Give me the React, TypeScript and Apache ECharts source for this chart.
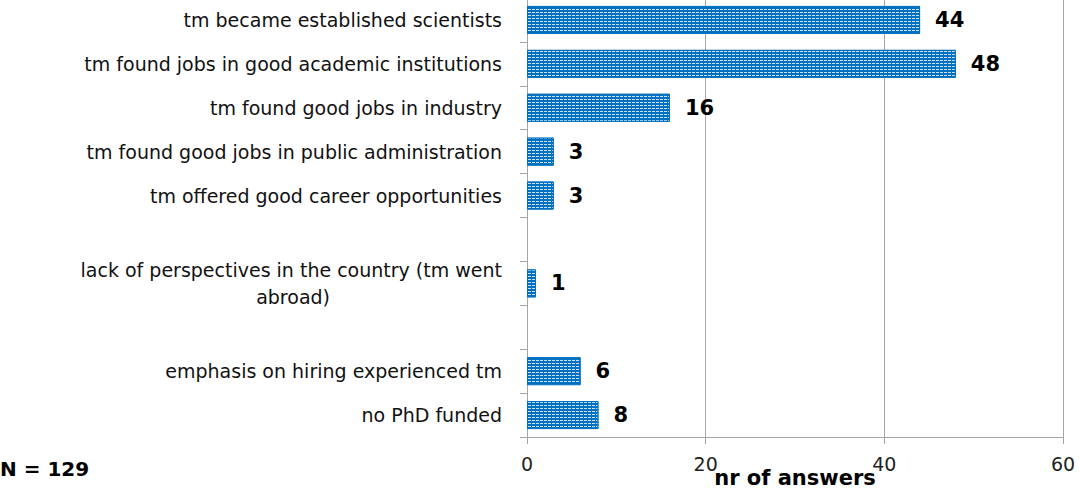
import React, { useEffect, useRef } from 'react';
import * as echarts from 'echarts';

const categories = [
  'tm became established scientists',
  'tm found jobs in good academic institutions',
  'tm found good jobs in industry',
  'tm found good jobs in public administration',
  'tm offered good career opportunities',
  '',
  'lack of perspectives in the country (tm went abroad)',
  '',
  'emphasis on hiring experienced tm',
  'no PhD funded',
];
const values: (number | null)[] = [44, 48, 16, 3, 3, null, 1, null, 6, 8];
const xTicks = [0, 20, 40, 60];
const axisTitle = 'nr of answers';
const noteText = 'N = 129';

const FONT = 'DejaVu Sans';
const GRAY = '#a6a6a6';
const LABEL_SIZE = 19;

export default function App() {
  const ref = useRef<HTMLDivElement>(null);
  useEffect(() => {
    document.body.style.margin = '0';
    const chart = echarts.init(ref.current!, null, { renderer: 'svg' });
    chart.setOption({
      animation: false,
      backgroundColor: '#fff',
      grid: {
        left: 527,
        right: 16,
        top: -2,
        bottom: 51,
        containLabel: false,
        outerBoundsMode: 'none',
      },
      xAxis: {
        type: 'value',
        min: xTicks[0],
        max: xTicks[xTicks.length - 1],
        interval: xTicks[1] - xTicks[0],
        axisLine: { show: true, lineStyle: { color: GRAY, width: 1 } },
        axisTick: { show: true, length: 7, lineStyle: { color: GRAY } },
        splitLine: { show: true, lineStyle: { color: GRAY, width: 1 } },
        axisLabel: { margin: 17, fontSize: 19, color: '#222', fontFamily: FONT },
        name: axisTitle,
        nameLocation: 'middle',
        nameGap: 30,
        nameMoveOverlap: false,
        nameTextStyle: { fontSize: 21, fontWeight: 'bold', color: '#000', fontFamily: FONT },
      },
      yAxis: {
        type: 'category',
        inverse: true,
        data: categories,
        axisLine: { show: true, lineStyle: { color: GRAY, width: 1 } },
        axisTick: { show: true, length: 7, lineStyle: { color: GRAY } },
        splitLine: { show: false },
        axisLabel: {
          interval: 0,
          margin: 25,
          fontSize: LABEL_SIZE,
          color: '#111',
          fontFamily: FONT,
          lineHeight: 27,
          formatter: (v: string) => {
            if (v.startsWith('lack of')) {
              return '{a|lack of perspectives in the country (tm went}\n{b|abroad)}';
            }
            return v;
          },
          rich: {
            a: { fontSize: LABEL_SIZE, color: '#111', fontFamily: FONT, lineHeight: 27 },
            b: {
              fontSize: LABEL_SIZE,
              color: '#111',
              fontFamily: FONT,
              lineHeight: 27,
              padding: [0, 172, 0, 0],
            },
          },
        },
      },
      series: [
        {
          type: 'bar',
          data: values,
          barWidth: 28,
          itemStyle: {
            color: '#0070C0',
            borderColor: '#0070C0',
            borderWidth: 1,
            decal: {
              symbol: 'rect',
              symbolSize: 1,
              color: 'rgba(255,255,255,0.8)',
              dashArrayX: [[3, 1]],
              dashArrayY: [1, 1.5],
              rotation: 0,
            },
          },
          label: {
            show: true,
            position: 'right',
            distance: 15,
            fontSize: 21,
            fontWeight: 'bold',
            color: '#000',
            fontFamily: FONT,
          },
        },
      ],
      graphic: [
        {
          type: 'text',
          left: 0,
          top: 459,
          style: { text: noteText, fontSize: 20, fontWeight: 'bold', fill: '#000', fontFamily: FONT },
        },
      ],
    });
    return () => chart.dispose();
  }, []);
  return <div ref={ref} style={{ width: 1079, height: 488 }} />;
}
